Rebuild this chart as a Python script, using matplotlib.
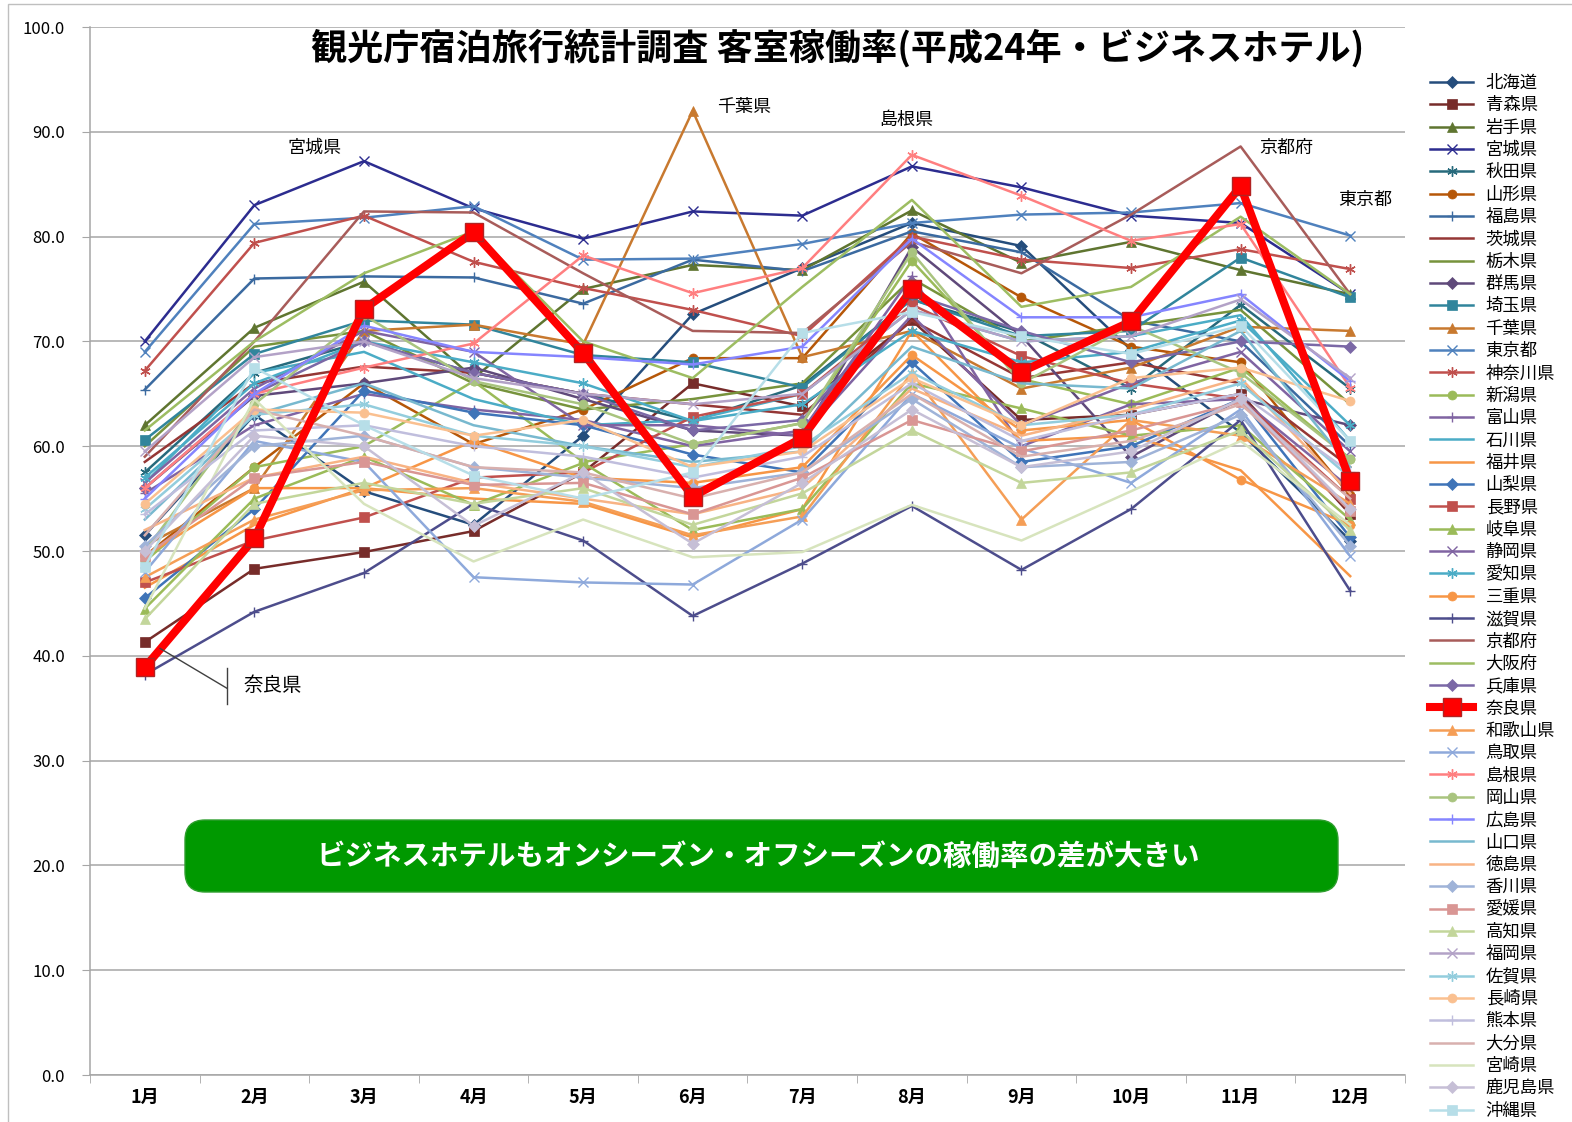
# -*- coding: utf-8 -*-
# 客室稼働率 (平成24年・ビジネスホテル) 都道府県別 月次推移
import numpy as np
import matplotlib
matplotlib.use('Agg')
import matplotlib.pyplot as plt
from matplotlib.patches import FancyBboxPatch, Rectangle
from matplotlib.transforms import IdentityTransform

plt.rcParams['font.family'] = ['Noto Sans CJK JP', 'DejaVu Sans']

months = ['1月', '2月', '3月', '4月', '5月', '6月', '7月', '8月', '9月', '10月', '11月', '12月']

prefectures = ['北海道', '青森県', '岩手県', '宮城県', '秋田県', '山形県', '福島県', '茨城県',
               '栃木県', '群馬県', '埼玉県', '千葉県', '東京都', '神奈川県', '新潟県', '富山県',
               '石川県', '福井県', '山梨県', '長野県', '岐阜県', '静岡県', '愛知県', '三重県',
               '滋賀県', '京都府', '大阪府', '兵庫県', '奈良県', '和歌山県', '鳥取県', '島根県',
               '岡山県', '広島県', '山口県', '徳島県', '香川県', '愛媛県', '高知県', '福岡県',
               '佐賀県', '長崎県', '熊本県', '大分県', '宮崎県', '鹿児島県', '沖縄県']

# 月別稼働率 (%) 1月〜12月
hokkaido  = [51.5, 63.0, 55.7, 52.5, 61.0, 72.6, 77.0, 81.3, 79.1, 69.2, 61.3, 51.0]
aomori    = [41.3, 48.3, 49.9, 51.9, 57.5, 66.0, 63.8, 72.0, 62.5, 63.0, 65.0, 53.5]
iwate     = [62.0, 71.3, 75.7, 66.5, 75.0, 77.3, 76.8, 82.5, 77.5, 79.5, 76.8, 74.5]
miyagi    = [70.0, 83.0, 87.2, 82.7, 79.8, 82.4, 82.0, 86.7, 84.7, 82.0, 81.3, 74.5]
akita     = [57.5, 67.0, 70.0, 67.0, 65.0, 62.4, 65.8, 74.0, 70.9, 65.5, 73.5, 65.5]
yamagata  = [49.5, 58.0, 66.0, 60.2, 63.5, 68.4, 68.4, 80.3, 74.2, 69.5, 68.0, 55.3]
fukushima = [65.4, 76.0, 76.2, 76.1, 73.6, 77.8, 76.7, 80.5, 78.5, 72.0, 70.0, 60.0]
ibaraki   = [58.5, 66.0, 67.6, 67.0, 65.0, 64.0, 63.0, 72.0, 66.5, 68.0, 66.0, 58.0]
tochigi   = [60.0, 69.5, 71.0, 66.0, 63.5, 64.5, 66.0, 76.0, 70.0, 71.5, 73.0, 64.0]
gunma     = [56.0, 64.8, 66.0, 67.5, 64.5, 61.5, 61.0, 79.0, 70.5, 59.0, 64.5, 62.0]
saitama   = [60.6, 68.8, 72.0, 71.6, 68.7, 68.0, 65.6, 74.0, 70.5, 71.0, 78.0, 74.2]
chiba     = [50.5, 56.0, 71.0, 71.6, 69.7, 92.0, 68.5, 71.0, 65.5, 67.5, 71.4, 71.0]
tokyo     = [69.0, 81.2, 81.8, 82.9, 77.8, 77.9, 79.3, 81.3, 82.1, 82.3, 83.2, 80.1]
kanagawa  = [67.2, 79.4, 82.0, 77.6, 75.1, 73.0, 70.5, 80.0, 77.8, 77.0, 78.8, 76.9]
niigata   = [49.0, 58.0, 60.0, 66.2, 58.5, 60.2, 62.2, 77.7, 66.4, 64.0, 67.5, 58.8]
toyama    = [55.5, 62.0, 65.0, 63.5, 62.5, 60.0, 61.5, 76.2, 60.0, 64.0, 64.5, 56.0]
ishikawa  = [56.5, 67.0, 69.0, 64.5, 62.0, 62.5, 65.0, 73.0, 70.0, 70.5, 72.5, 60.5]
fukui     = [46.5, 52.5, 56.0, 55.0, 54.5, 51.3, 54.0, 71.0, 60.5, 61.0, 57.7, 47.6]
yamanashi = [45.5, 54.0, 65.3, 63.2, 62.0, 59.2, 57.5, 68.0, 58.5, 60.0, 64.5, 51.3]
nagano    = [47.0, 51.0, 53.2, 57.0, 57.5, 62.8, 65.0, 73.5, 68.6, 66.0, 64.5, 55.0]
gifu      = [44.5, 55.0, 59.0, 54.4, 58.4, 52.0, 54.0, 66.0, 63.6, 61.0, 62.0, 53.0]
shizuoka  = [56.5, 65.5, 71.0, 69.0, 62.0, 62.0, 61.0, 72.5, 62.0, 66.0, 69.0, 59.5]
aichi     = [57.0, 66.0, 70.0, 68.0, 66.0, 62.4, 64.0, 71.0, 68.0, 69.0, 72.0, 62.0]
mie       = [49.5, 56.0, 56.0, 60.5, 57.0, 56.5, 58.0, 68.7, 61.5, 62.5, 56.8, 52.5]
shiga     = [38.2, 44.2, 47.9, 54.5, 51.0, 43.8, 48.8, 54.3, 48.2, 54.0, 62.5, 46.2]
kyoto     = [59.0, 70.0, 82.4, 82.3, 76.5, 71.0, 70.8, 79.5, 76.5, 82.1, 88.6, 74.5]
osaka     = [61.5, 70.0, 76.5, 80.5, 70.0, 66.5, 75.2, 83.5, 73.3, 75.2, 81.9, 74.5]
hyogo     = [56.0, 65.0, 70.0, 67.0, 65.0, 61.5, 62.5, 74.5, 71.0, 68.0, 70.0, 69.5]
nara      = [38.9, 51.2, 73.1, 80.4, 68.9, 55.2, 60.8, 75.0, 67.1, 71.9, 84.8, 56.7]
wakayama  = [47.5, 53.0, 55.8, 56.0, 54.7, 51.5, 53.3, 67.0, 53.0, 62.5, 61.0, 54.5]
tottori   = [48.0, 60.5, 58.5, 47.5, 47.0, 46.8, 53.0, 65.0, 59.8, 56.5, 63.5, 49.5]
shimane   = [56.0, 65.0, 67.5, 69.8, 78.2, 74.6, 77.0, 87.8, 83.9, 79.6, 81.2, 65.6]
okayama   = [50.0, 64.0, 72.5, 66.2, 64.0, 60.2, 62.2, 78.5, 66.0, 71.5, 67.0, 58.8]
hiroshima = [55.0, 65.0, 71.5, 69.0, 68.5, 67.8, 69.5, 79.8, 72.3, 72.3, 74.5, 66.2]
yamaguchi = [53.0, 63.0, 66.0, 62.0, 60.0, 58.5, 59.5, 69.5, 66.0, 65.5, 71.0, 58.0]
tokushima = [52.0, 57.0, 59.0, 56.5, 55.0, 53.5, 56.0, 65.5, 61.0, 63.5, 66.5, 55.5]
kagawa    = [50.5, 60.0, 61.0, 58.0, 57.0, 56.0, 57.5, 64.5, 58.0, 58.5, 63.0, 50.5]
ehime     = [49.5, 57.0, 58.5, 56.3, 56.5, 53.5, 57.0, 62.5, 59.5, 61.5, 64.2, 53.8]
kochi     = [43.5, 54.5, 56.5, 54.5, 56.0, 52.5, 55.5, 61.5, 56.5, 57.5, 61.5, 52.0]
fukuoka   = [59.5, 68.5, 70.0, 66.5, 65.0, 64.0, 65.0, 73.0, 70.0, 70.5, 74.0, 66.5]
saga      = [54.0, 63.0, 64.0, 61.0, 60.0, 58.0, 60.0, 67.0, 62.0, 63.0, 66.0, 57.0]
nagasaki  = [54.5, 63.5, 63.2, 61.0, 62.5, 58.0, 59.5, 66.5, 62.0, 66.5, 67.5, 64.3]
kumamoto  = [53.5, 61.5, 62.0, 60.0, 59.0, 57.0, 59.0, 66.0, 60.5, 63.0, 65.0, 57.5]
oita      = [51.5, 63.5, 61.0, 58.0, 57.5, 55.0, 57.5, 65.0, 59.0, 60.5, 64.0, 55.0]
miyazaki  = [44.5, 64.5, 54.5, 49.0, 53.0, 49.4, 49.9, 54.4, 51.0, 55.7, 60.5, 52.5]
kagoshima = [50.0, 61.0, 60.0, 52.4, 57.5, 50.7, 56.5, 63.5, 58.0, 59.5, 64.5, 54.0]
okinawa   = [48.5, 67.5, 62.0, 57.2, 55.0, 57.5, 70.8, 72.8, 70.5, 68.8, 71.5, 60.5]

rates = [hokkaido, aomori, iwate, miyagi, akita, yamagata, fukushima, ibaraki,
         tochigi, gunma, saitama, chiba, tokyo, kanagawa, niigata, toyama,
         ishikawa, fukui, yamanashi, nagano, gifu, shizuoka, aichi, mie,
         shiga, kyoto, osaka, hyogo, nara, wakayama, tottori, shimane,
         okayama, hiroshima, yamaguchi, tokushima, kagawa, ehime, kochi, fukuoka,
         saga, nagasaki, kumamoto, oita, miyazaki, kagoshima, okinawa]

colors = ['#254D7C', '#772C2A', '#5F7530', '#2C2C8F', '#276A7C', '#B65708', '#3B6AA0', '#953735',
          '#77933C', '#5F497A', '#31859C', '#C8792F', '#4F81BD', '#C0504D', '#9BBB59', '#8064A2',
          '#4BACC6', '#F79646', '#3F74B8', '#C0504D', '#9BBB59', '#8064A2', '#4BACC6', '#F79646',
          '#4D4D8C', '#A85C5A', '#9DBD62', '#7B68A6', '#FF0000', '#F59E56', '#8EA9DB', '#FF7F80',
          '#A9C47F', '#8585FF', '#78B9CF', '#F8B384', '#9FB3D8', '#D99694', '#C3D69B', '#B3A2C7',
          '#93CDDD', '#FAC090', '#C0BEDD', '#D8B0AE', '#D7E4BD', '#C6BFD6', '#B7DEE8']

# Excelの既定マーカー順 (ひし形, 四角, 三角, ×, ＊, 丸, ＋, なし, なし)
marker_cycle = ['D', 's', '^', 'x', (6, 2, 0), 'o', '+', None, None]

fig = plt.figure(figsize=(15.72, 11.22), dpi=100)
ax = fig.add_axes([90/1572, 1-1075/1122, (1405-90)/1572, (1075-27)/1122])

x = np.arange(len(months))
for i, (name, vals, col) in enumerate(zip(prefectures, rates, colors)):
    mk = marker_cycle[i % 9]
    if name == '奈良県':
        ax.plot(x, vals, color=col, lw=5.8, marker='s', ms=13, mfc=col, mec='#B22222',
                mew=1.0, label=name, zorder=3)
        continue
    thin = mk in ('x', '+', (6, 2, 0))
    ms = 6 if mk == 'D' else 7.5 if thin else 6.5
    ax.plot(x, vals, color=col, lw=1.8, marker=mk, ms=ms, mfc=col, mec=col,
            mew=1.0 if thin else 0.5, label=name, zorder=2)

ax.set_xlim(-0.5, 11.5)
ax.set_ylim(0, 100)
ax.set_yticks(np.arange(0, 101, 10))
ax.set_yticklabels([f'{v:.1f}' for v in np.arange(0, 101, 10)], fontsize=12)
ax.yaxis.grid(True, color='#A6A6A6', lw=1.1)
ax.set_axisbelow(True)
ax.set_xticks(x)
ax.set_xticklabels(months, fontsize=13, fontweight='bold')
ax.set_xticks(np.arange(-0.5, 12, 1), minor=True)
ax.tick_params(axis='x', which='major', length=0, pad=9)
ax.tick_params(axis='x', which='minor', length=6, color='#A6A6A6')
ax.tick_params(axis='y', length=6, color='#A6A6A6', pad=12)
for s in ['top', 'right']:
    ax.spines[s].set_visible(False)
for s in ['left', 'bottom']:
    ax.spines[s].set_color('#A6A6A6')
    ax.spines[s].set_linewidth(1.1)

# ラベル
ax.text(1.55, 88.5, '宮城県', fontsize=13, ha='center', va='center')
ax.text(5.47, 92.4, '千葉県', fontsize=13, ha='center', va='center')
ax.text(6.95, 91.1, '島根県', fontsize=13, ha='center', va='center')
ax.text(10.42, 88.5, '京都府', fontsize=13, ha='center', va='center')
ax.text(11.14, 83.5, '東京都', fontsize=13, ha='center', va='center')
ax.plot([0.14, 0.75], [40.7, 36.9], color='#404040', lw=1.0, zorder=4)
ax.plot([0.75, 0.75], [38.8, 35.4], color='#404040', lw=1.0, zorder=4)
ax.text(0.9, 37.2, '奈良県', fontsize=14, ha='left', va='center')

fig.text(0.533, 1-48/1122, '観光庁宿泊旅行統計調査 客室稼働率(平成24年・ビジネスホテル)',
         fontsize=26, fontweight='bold', ha='center', va='center')

box = FancyBboxPatch((185, 1122-892), 1153, 72, boxstyle='round,pad=0,rounding_size=20',
                     transform=IdentityTransform(), facecolor='#009900', edgecolor='#2E9E2E',
                     lw=1.0, zorder=5)
fig.patches.append(box)
fig.text(758/1572, 1-857/1122, 'ビジネスホテルもオンシーズン・オフシーズンの稼働率の差が大きい',
         color='white', fontsize=20.5, fontweight='bold', ha='center', va='center', zorder=6)

# 外枠
fig.patches.append(Rectangle((8/1572, -0.01), 1.0, 1-4/1122+0.01, transform=fig.transFigure,
                             fill=False, edgecolor='#BFBFBF', lw=1.0))

fig.legend(loc='upper left', bbox_to_anchor=(1430/1572, 1-74/1122), frameon=False,
           fontsize=12.5, handlelength=2.5, handletextpad=0.7, labelspacing=0.25,
           borderaxespad=0, borderpad=0)

fig.savefig('out.png', dpi=100)
